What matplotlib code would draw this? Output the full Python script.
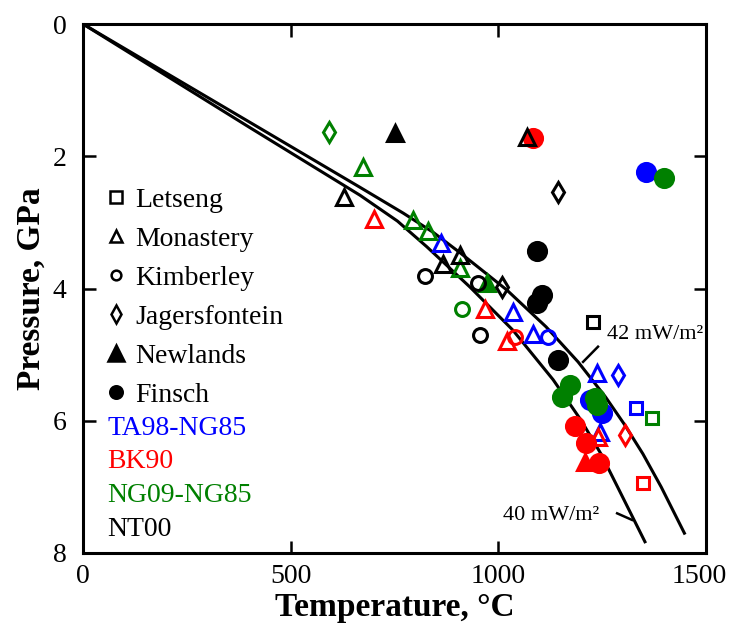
import numpy as np
import matplotlib
matplotlib.use('Agg')
import matplotlib.pyplot as plt
import matplotlib.transforms as mtransforms
from matplotlib.lines import Line2D

plt.rcParams['font.family'] = ['Liberation Serif', 'DejaVu Serif']

# geotherms (T in C, P in GPa)
geo42_T = [0, 400, 667, 771, 843, 908, 1020, 1115, 1192, 1258, 1303, 1348, 1392, 1448]
geo42_P = [0, 1.48, 2.47, 2.86, 3.15, 3.46, 4.02, 4.58, 5.11, 5.64, 6.05, 6.5, 7.0, 7.7]
geo40_T = [0, 400, 667, 757, 828, 932, 1035, 1132, 1200, 1247, 1287, 1353]
geo40_P = [0, 1.56, 2.59, 2.98, 3.37, 3.98, 4.63, 5.38, 6.0, 6.5, 7.0, 7.83]

# kimberlite pipes -> marker
site_names = ['Letseng', 'Monastery', 'Kimberley', 'Jagersfontein', 'Newlands', 'Finsch']
site_markers = ['s', '^', 'o', 'd', '^', 'o']
site_filled = [False, False, False, False, True, True]
site_ms = [9, 11, 10, 10, 12, 13]
legend_ms = [8, 9, 7, 9, 12, 9]

# thermobarometer combos -> colour
method_names = ['TA98-NG85', 'BK90', 'NG09-NG85', 'NT00']
method_colors = ['#0000ff', '#ff0000', '#008000', '#000000']

ta98_site = ['Finsch', 'Monastery', 'Monastery', 'Monastery', 'Kimberley', 'Monastery',
             'Jagersfontein', 'Finsch', 'Finsch', 'Monastery', 'Letseng']
ta98_T = [1356, 862, 1035, 1084, 1120, 1238, 1288, 1221, 1250, 1245, 1332]
ta98_P = [2.24, 3.31, 4.36, 4.69, 4.73, 5.28, 5.31, 5.69, 5.88, 6.17, 5.81]

bk90_site = ['Finsch', 'Monastery', 'Monastery', 'Monastery', 'Kimberley', 'Finsch',
             'Finsch', 'Finsch', 'Newlands', 'Monastery', 'Jagersfontein', 'Letseng']
bk90_T = [1084, 701, 968, 1021, 1040, 1185, 1211, 1243, 1209, 1240, 1305, 1348]
bk90_P = [1.73, 2.95, 4.31, 4.79, 4.73, 6.08, 6.34, 6.64, 6.62, 6.25, 6.22, 6.94]

ng09_site = ['Jagersfontein', 'Monastery', 'Monastery', 'Monastery', 'Monastery', 'Newlands',
             'Kimberley', 'Finsch', 'Finsch', 'Finsch', 'Finsch', 'Finsch', 'Letseng']
ng09_T = [592, 674, 795, 831, 908, 973, 913, 1399, 1173, 1153, 1233, 1238, 1370]
ng09_P = [1.63, 2.16, 2.96, 3.13, 3.69, 3.92, 4.31, 2.33, 5.46, 5.64, 5.66, 5.76, 5.96]

nt00_site = ['Monastery', 'Monastery', 'Newlands', 'Jagersfontein', 'Finsch', 'Finsch',
             'Finsch', 'Finsch', 'Monastery', 'Monastery', 'Kimberley', 'Kimberley',
             'Kimberley', 'Jagersfontein', 'Letseng']
nt00_T = [628, 1069, 751, 1144, 1093, 1105, 1093, 1144, 908, 867, 823, 951, 956, 1009, 1228]
nt00_P = [2.62, 1.71, 1.65, 2.54, 3.43, 4.10, 4.22, 5.08, 3.49, 3.63, 3.81, 3.92, 4.70, 3.98, 4.51]

data = [(ta98_site, ta98_T, ta98_P), (bk90_site, bk90_T, bk90_P),
        (ng09_site, ng09_T, ng09_P), (nt00_site, nt00_T, nt00_P)]

# label text + leader lines for the geotherms
lab42_xy = (1262, 4.70)
lab40_xy = (1011, 7.43)
lead42 = ([1204, 1240], [5.11, 4.88])
lead40 = ([1286, 1322], [7.40, 7.50])

fig = plt.figure(figsize=(7.32, 6.25), dpi=100)
ax = fig.add_axes([83/732, 72/625, 623/732, 529/625])

ax.plot(geo42_T, geo42_P, color='k', lw=2.2)
ax.plot(geo40_T, geo40_P, color='k', lw=2.2)

for (sites, T, P), col in zip(data, method_colors):
    sites = np.array(sites)
    T = np.array(T)
    P = np.array(P)
    for name, mk, filled, ms in zip(site_names, site_markers, site_filled, site_ms):
        m = sites == name
        if not m.any():
            continue
        ax.plot(T[m], P[m], ls='none', marker=mk, ms=ms, mec=col,
                mfc=col if filled else 'none', mew=2.2)

ax.text(lab42_xy[0], lab42_xy[1], '42 mW/m\u00b2', fontsize=16, va='center', ha='left')
ax.text(lab40_xy[0], lab40_xy[1], '40 mW/m\u00b2', fontsize=16, va='center', ha='left')
ax.plot(*lead42, color='k', lw=1.8)
ax.plot(*lead40, color='k', lw=1.8)

# legends
h1 = [Line2D([], [], ls='none', marker=mk, ms=ms, mec='k', mfc='k' if f else 'none', mew=1.8)
      for mk, f, ms in zip(site_markers, site_filled, legend_ms)]
leg1 = ax.legend(h1, site_names, loc='upper left', bbox_to_anchor=(0.0177, 0.7125),
                 borderaxespad=0, frameon=False, fontsize=20, handlelength=0.8,
                 handletextpad=0.3, labelspacing=0.49)
ax.add_artist(leg1)
h2 = [Line2D([], [], ls='none') for _ in method_names]
leg2 = ax.legend(h2, method_names, loc='upper left', bbox_to_anchor=(0.021, 0.2815),
                 borderaxespad=0, frameon=False, fontsize=20, handlelength=0,
                 handletextpad=0, labelspacing=0.30, labelcolor=method_colors)

ax.set_xlim(0, 1500)
ax.set_ylim(8, 0)
ax.set_xticks([0, 500, 1000, 1500])
ax.set_yticks([0, 2, 4, 6, 8])
ax.tick_params(direction='in', length=9, width=1.8, top=True, right=True,
               labelsize=20, pad=8)
ax.tick_params(axis='y', pad=12)
for s in ax.spines.values():
    s.set_linewidth(2.2)

# keep the last x label inside the canvas
last = ax.get_xticklabels()[-1]
last.set_transform(last.get_transform() +
                   mtransforms.ScaledTranslation(-5/72, 0, fig.dpi_scale_trans))

ax.set_xlabel('Temperature, \u00b0C', fontsize=24, fontweight='bold', labelpad=2)
ax.set_ylabel('Pressure, GPa', fontsize=24, fontweight='bold', labelpad=4)

fig.savefig('out.png', dpi=100)
